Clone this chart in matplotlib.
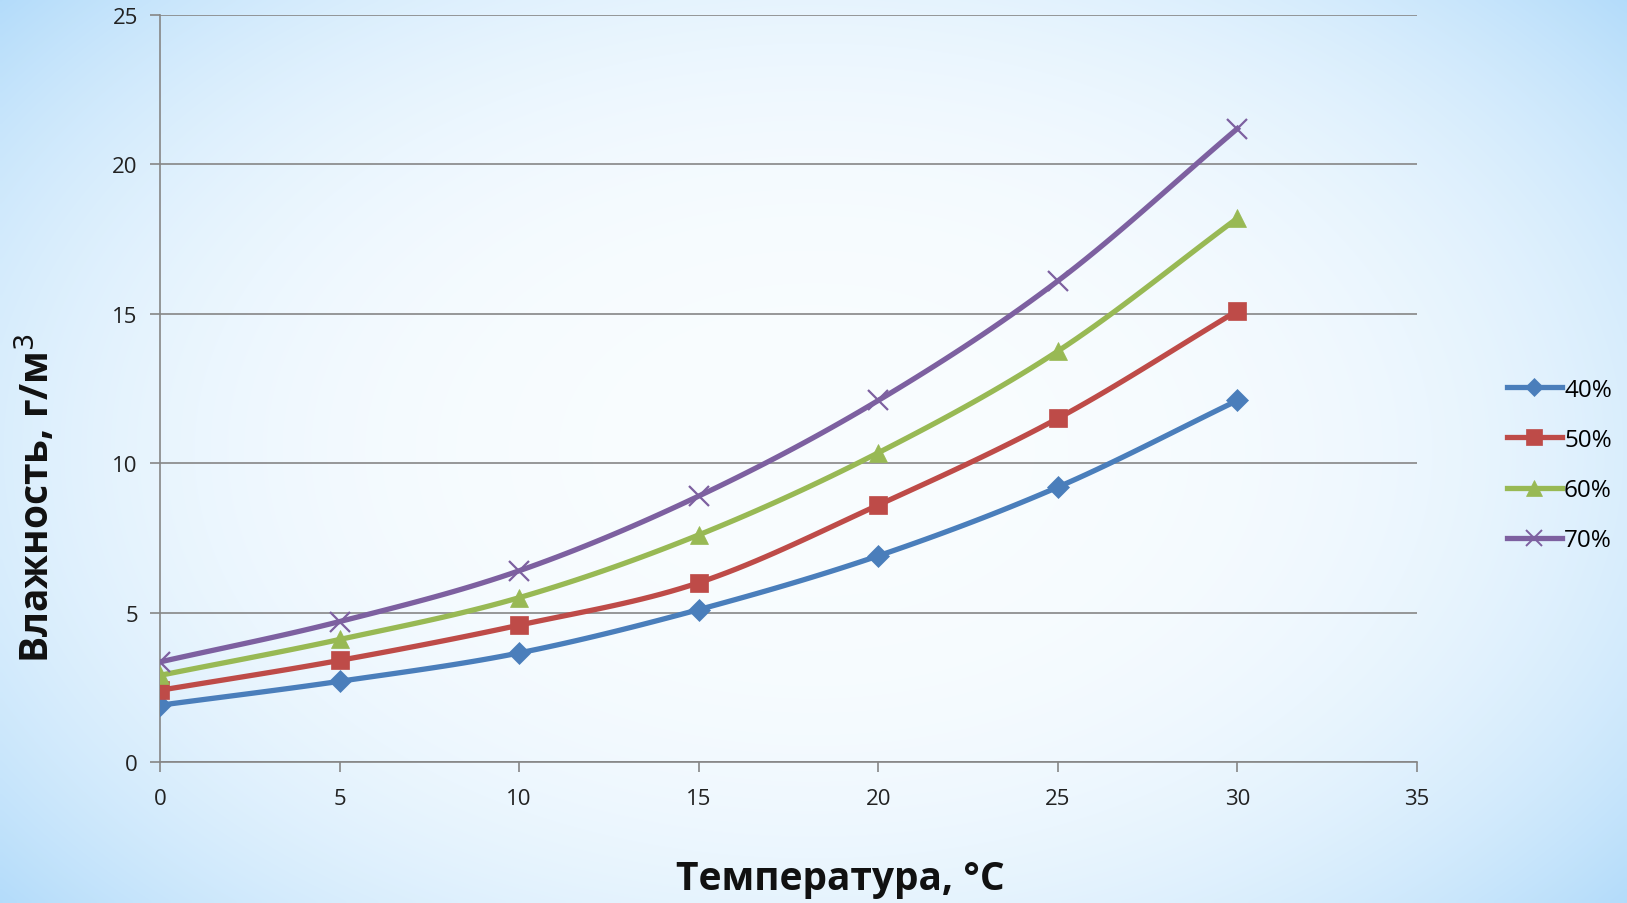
import numpy as np
import matplotlib.pyplot as plt
from matplotlib.lines import Line2D

temps = [0, 5, 10, 15, 20, 25, 30]
hum_40 = [1.9, 2.7, 3.65, 5.1, 6.9, 9.2, 12.1]
hum_50 = [2.4, 3.4, 4.58, 6.0, 8.6, 11.5, 15.1]
hum_60 = [2.9, 4.1, 5.5, 7.6, 10.35, 13.75, 18.2]
hum_70 = [3.35, 4.7, 6.4, 8.9, 12.1, 16.1, 21.2]
labels = ["40%", "50%", "60%", "70%"]

colors = ["#4a7ebb", "#be4b48", "#98b954", "#7d60a0"]
markers = ["D", "s", "^", "x"]
msizes = [11, 13, 13, 14]

plt.rcParams['font.family'] = ['Open Sans', 'DejaVu Sans']


def smooth(x, y, n=20):
    # catmull-rom curve through the points, like excel's smoothed line
    x = np.asarray(x, float)
    y = np.asarray(y, float)
    px = np.concatenate([[2 * x[0] - x[1]], x, [2 * x[-1] - x[-2]]])
    py = np.concatenate([[2 * y[0] - y[1]], y, [2 * y[-1] - y[-2]]])
    xs, ys = [], []
    t = np.linspace(0, 1, n)
    for i in range(1, len(px) - 2):
        for p, out in ((px, xs), (py, ys)):
            p0, p1, p2, p3 = p[i - 1], p[i], p[i + 1], p[i + 2]
            out.extend(0.5 * (2 * p1 + (-p0 + p2) * t
                              + (2 * p0 - 5 * p1 + 4 * p2 - p3) * t ** 2
                              + (-p0 + 3 * p1 - 3 * p2 + p3) * t ** 3))
    return xs, ys


fig = plt.figure(figsize=(16.27, 9.04), dpi=100)

# background gradient, white centre and light blue edges
bg = fig.add_axes([0, 0, 1, 1], zorder=-10)
gx, gy = np.meshgrid(np.linspace(-1, 1, 400), np.linspace(-1, 1, 220))
r = np.clip(np.sqrt((gx * 0.95) ** 2 + (gy * 0.8) ** 2), 0, 1.25) / 1.25
r = r ** 3.0
white = np.array([0.975, 0.99, 1.0])
blue = np.array([0.70, 0.86, 0.98])
img = white[None, None, :] * (1 - r[..., None]) + blue[None, None, :] * r[..., None]
bg.imshow(img, aspect='auto', extent=[0, 1, 0, 1], interpolation='bilinear')
bg.axis('off')

ax = fig.add_axes([160 / 1627, 1 - 763 / 904, (1417 - 160) / 1627, (763 - 16) / 904])
ax.set_facecolor('none')

series = [hum_40, hum_50, hum_60, hum_70]
for vals, c, m, ms in zip(series, colors, markers, msizes):
    sx, sy = smooth(temps, vals)
    ax.plot(sx, sy, color=c, lw=3.8, zorder=3)
    ax.plot(temps, vals, linestyle='none', marker=m, color=c, markersize=ms,
            markeredgewidth=1.6 if m == 'x' else 0.5, zorder=4)

ax.set_xlim(0, 35)
ax.set_ylim(0, 25)
ax.set_xticks(range(0, 36, 5))
ax.set_yticks(range(0, 26, 5))
ax.yaxis.grid(True, color='#868686', lw=1.2)
ax.set_axisbelow(True)
for s in ['top', 'right']:
    ax.spines[s].set_visible(False)
for s in ['left', 'bottom']:
    ax.spines[s].set_color('#868686')
    ax.spines[s].set_linewidth(1.2)
ax.tick_params(direction='out', length=7, width=1.2, color='#868686',
               labelsize=16, labelcolor='#222222', pad=9)
ax.tick_params(axis='x', pad=12)

fig.text(840 / 1627, 1 - 880 / 904, "Температура, °C", ha='center', va='center',
         fontsize=28, fontweight='bold', color='#111111')
fig.text(36 / 1627, 1 - 498 / 904, "Влажность, г/м$^3$", ha='center', va='center',
         rotation=90, fontsize=28, fontweight='bold', color='#111111')

handles = [Line2D([], [], color=c, marker=m, markersize=ms * 0.85, lw=3.8,
                  markeredgewidth=1.4 if m == 'x' else 0.5)
           for c, m, ms in zip(colors, markers, msizes)]
fig.legend(handles, labels, loc='center left', bbox_to_anchor=(1507 / 1627, 1 - 466 / 904),
           frameon=False, fontsize=17.5, handlelength=2.25, handletextpad=0.1,
           labelspacing=1.08, borderpad=0, borderaxespad=0)

fig.savefig("out.png", dpi=100)
